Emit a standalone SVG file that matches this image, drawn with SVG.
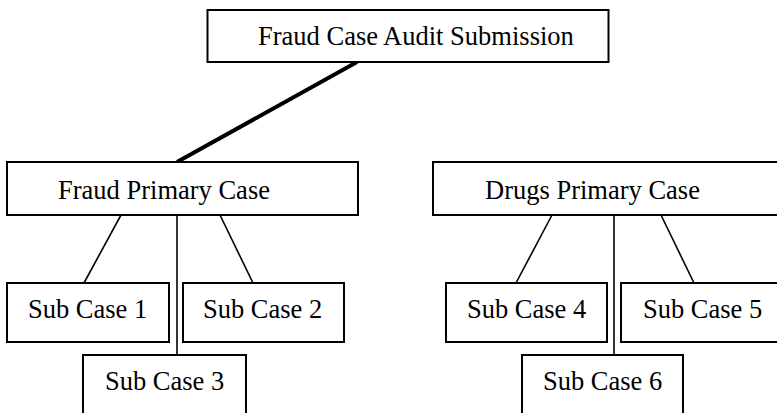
<svg xmlns="http://www.w3.org/2000/svg" width="777" height="413" viewBox="0 0 777 413">
<style>
rect{fill:#fff;stroke:#000;stroke-width:2}
text{font-family:"Liberation Serif","Times New Roman",serif;font-size:26.5px;fill:#000}
.c{stroke:#000;stroke-width:1.6;fill:none}
.t{stroke:#000;stroke-width:4;fill:none}
</style>
<rect x="0" y="0" width="777" height="413" style="stroke:none"/>
<g id="connectors">
<line class="t" x1="357" y1="62" x2="177" y2="162"/>
<line class="c" x1="121" y1="215" x2="84" y2="283"/>
<line class="c" x1="220" y1="215" x2="253" y2="283"/>
<line class="c" x1="177" y1="215" x2="177" y2="355"/>
<line class="c" x1="552" y1="215" x2="516" y2="283"/>
<line class="c" x1="661" y1="215" x2="694" y2="283"/>
<line class="c" x1="614" y1="215" x2="614" y2="355"/>
</g>
<g id="root">
<rect x="207.5" y="10" width="401" height="52"/>
<text x="258" y="45">Fraud Case Audit Submission</text>
</g>
<g id="fraud-primary">
<rect x="7" y="162" width="351" height="53"/>
<text x="58" y="199">Fraud Primary Case</text>
</g>
<g id="drugs-primary">
<rect x="433" y="162" width="360" height="53"/>
<text x="485" y="199">Drugs Primary Case</text>
</g>
<g id="sub1">
<rect x="7" y="283" width="162" height="59"/>
<text x="28" y="318">Sub Case 1</text>
</g>
<g id="sub2">
<rect x="183" y="283" width="161" height="59"/>
<text x="203" y="318">Sub Case 2</text>
</g>
<g id="sub3">
<rect x="83" y="355" width="163" height="70"/>
<text x="105" y="390">Sub Case 3</text>
</g>
<g id="sub4">
<rect x="446" y="283" width="161" height="59"/>
<text x="467" y="318">Sub Case 4</text>
</g>
<g id="sub5">
<rect x="621" y="283" width="170" height="59"/>
<text x="643" y="318">Sub Case 5</text>
</g>
<g id="sub6">
<rect x="522" y="355" width="161" height="70"/>
<text x="543" y="390">Sub Case 6</text>
</g>
</svg>
